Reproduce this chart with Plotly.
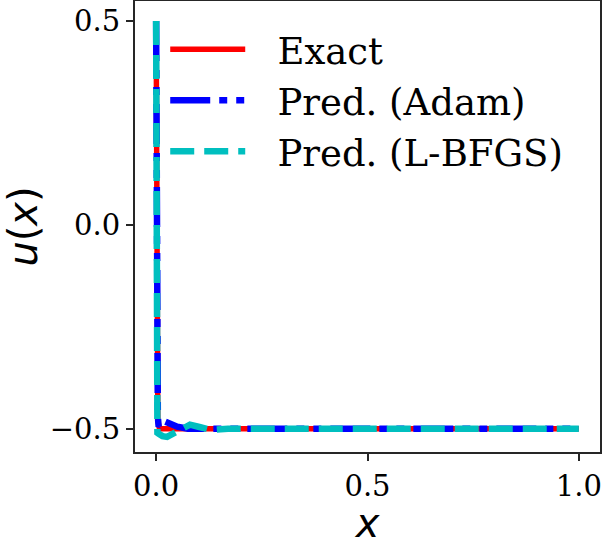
import plotly.graph_objects as go

# Exact solution
x_exact = [0.0, 0.001, 0.002, 0.004, 0.008, 0.02, 0.1, 0.3, 0.5, 0.7, 0.9, 1.0]
u_exact = [0.5, -0.13, -0.37, -0.48, -0.5, -0.5, -0.5, -0.5, -0.5, -0.5, -0.5, -0.5]

# Prediction (Adam)
x_adam = [0.0, 0.001, 0.002, 0.004, 0.006, 0.012, 0.02, 0.035, 0.05, 0.075, 0.1, 0.3, 0.5, 0.7, 0.9, 1.0]
u_adam = [0.5, -0.12, -0.36, -0.47, -0.495, -0.486, -0.482, -0.488, -0.495, -0.5, -0.5, -0.5, -0.5, -0.5, -0.5, -0.5]

# Prediction (L-BFGS)
x_lbfgs = [0.0, 0.001, 0.002, 0.003, 0.006, 0.015, 0.026, 0.05, 0.08, 0.1, 0.13, 0.17, 0.25, 0.5, 0.75, 1.0]
u_lbfgs = [0.5, -0.1, -0.38, -0.51, -0.512, -0.518, -0.52, -0.505, -0.49, -0.495, -0.503, -0.5, -0.5, -0.5, -0.5, -0.5]

x_ticks = [0.0, 0.5, 1.0]
x_ticktext = ["0.0", "0.5", "1.0"]
y_ticks = [-0.5, 0.0, 0.5]
y_ticktext = ["\u22120.5", "0.0", "0.5"]

names = ["Exact", "Pred. (Adam)", "Pred. (L-BFGS)"]
pad = "\u00a0\u00a0\u200a"

fig = go.Figure()
fig.add_trace(go.Scatter(x=x_exact, y=u_exact, mode="lines", name=pad + names[0],
                         line=dict(color="#ff0000", width=5.5)))
fig.add_trace(go.Scatter(x=x_adam, y=u_adam, mode="lines", name=pad + names[1],
                         line=dict(color="#0000ff", width=6.5, dash="40px,9px,8px,9px,8px,9px")))
fig.add_trace(go.Scatter(x=x_lbfgs, y=u_lbfgs, mode="lines", name=pad + names[2],
                         line=dict(color="#00bfbf", width=6.5, dash="24px,10px")))

axis_common = dict(showline=True, linecolor="#262626", linewidth=2, mirror=True,
                   ticks="outside", ticklen=7, tickwidth=1.6, tickcolor="#262626",
                   showgrid=False, zeroline=False, automargin=False,
                   tickfont=dict(family="DejaVu Serif", size=29, color="#000000"))

fig.update_layout(
    width=603, height=546,
    margin=dict(l=135, r=3, t=1, b=94, autoexpand=False),
    plot_bgcolor="white", paper_bgcolor="white",
    xaxis=dict(range=[-0.05, 1.05], tickvals=x_ticks, ticktext=x_ticktext,
               title=dict(text="<i>x</i>", font=dict(family="DejaVu Sans", size=40, color="#000000"), standoff=4),
               **axis_common),
    yaxis=dict(range=[-0.557, 0.549], tickvals=y_ticks, ticktext=y_ticktext,
               title=dict(text="<i>u</i>(<i>x</i>)", font=dict(family="DejaVu Sans", size=40, color="#000000"), standoff=10),
               **axis_common),
    legend=dict(x=0.065, y=0.961, xanchor="left", yanchor="top", bgcolor="rgba(0,0,0,0)",
                font=dict(family="DejaVu Serif", size=37, color="#000000"), itemwidth=75,
                tracegroupgap=0),
    showlegend=True,
)

fig.write_html("out.html", config={"displayModeBar": False},
               post_script="document.body.style.margin='0px';document.body.style.overflow='hidden';")
